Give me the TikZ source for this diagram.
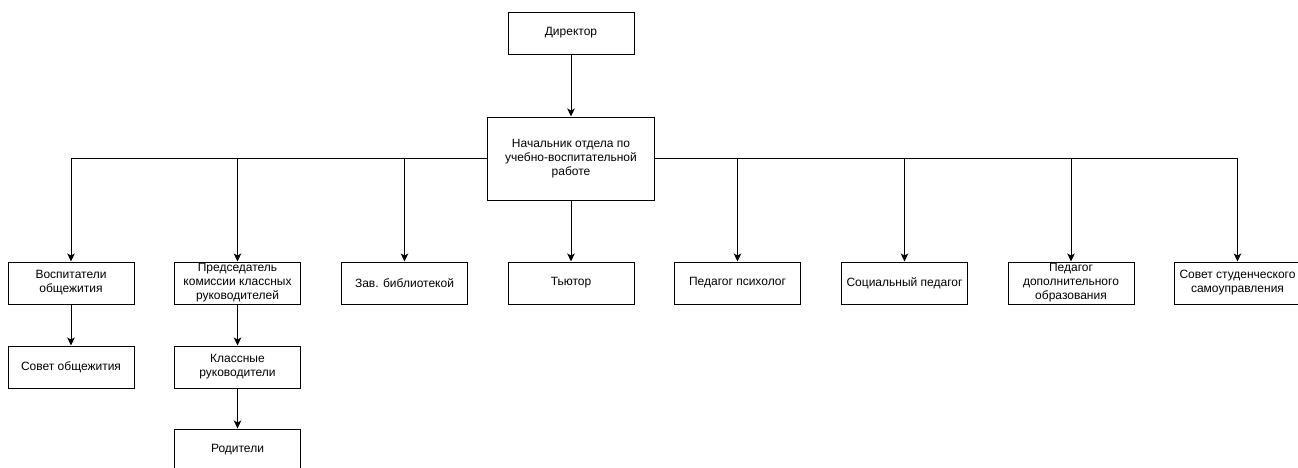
\documentclass[tikz,border=0pt]{standalone}
\usepackage{fontspec}
\setmainfont{Liberation Sans}
\usetikzlibrary{arrows.meta}
\tikzset{
  box/.style={draw=black, line width=1pt, fill=white, rectangle, minimum width=126pt, minimum height=42pt, inner sep=0pt, align=center, font=\fontsize{12}{14}\selectfont, text=black},
  arr/.style={draw=black, line width=1pt, -{Stealth[length=8pt,width=7.5pt,inset=2pt]}}
}
\begin{document}
\begin{tikzpicture}[x=1pt,y=-1pt]
\clip (0,0) rectangle (1298,467);
\fill[white] (0,0) rectangle (1298,467);
\node[box] (dir) at (571,33) {Директор};
\node[box, minimum width=167pt, minimum height=83pt] (nach) at (571,158.5) {Начальник отдела по\\учебно-воспитательной\\работе};
\node[box] (vosp) at (71,283) {Воспитатели\\общежития};
\node[box] (pred) at (237.5,283) {Председатель\\комиссии классных\\руководителей};
\node[box] (zav) at (404.5,283) {Зав. библиотекой};
\node[box] (tut) at (571,283) {Тьютор};
\node[box] (psy) at (737.5,283) {Педагог психолог};
\node[box] (soc) at (904.5,283) {Социальный педагог};
\node[box] (dop) at (1071,283) {Педагог\\дополнительного\\образования};
\node[box] (stud) at (1237.5,283) {Совет студенческого\\самоуправления};
\node[box] (sovob) at (71,367) {Совет общежития};
\node[box] (klass) at (237.5,367) {Классные\\руководители};
\node[box] (rod) at (237.5,450) {Родители};
\draw[arr] (dir) -- (nach);
\draw[arr] (nach) -- (tut);
\draw[arr] (nach.west) -| (vosp.north);
\draw[arr] (nach.west) -| (pred.north);
\draw[arr] (nach.west) -| (zav.north);
\draw[arr] (nach.east) -| (psy.north);
\draw[arr] (nach.east) -| (soc.north);
\draw[arr] (nach.east) -| (dop.north);
\draw[arr] (nach.east) -| (stud.north);
\draw[arr] (vosp) -- (sovob);
\draw[arr] (pred) -- (klass);
\draw[arr] (klass) -- (rod);
\end{tikzpicture}
\end{document}
